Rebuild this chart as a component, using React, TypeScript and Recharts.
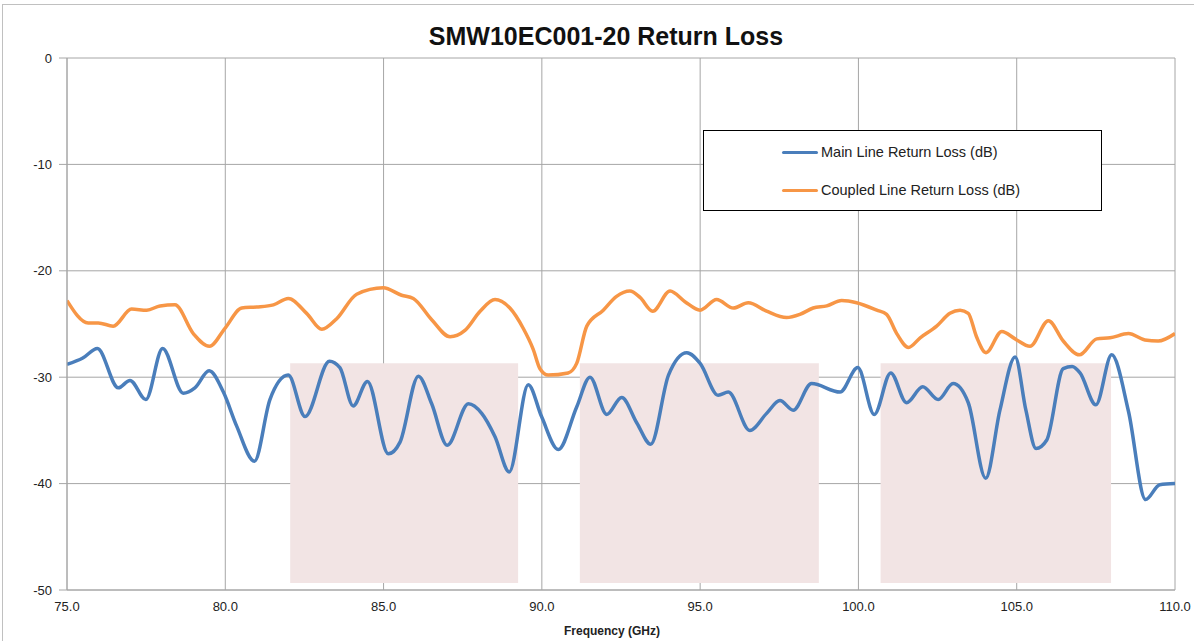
import { CartesianGrid, Line, LineChart, ReferenceArea, XAxis, YAxis } from "recharts"

const freqMain = [
  75.0, 75.5, 75.96, 76.62, 76.99, 77.49, 78.02, 78.67, 79.04, 79.49, 79.94, 80.36, 80.92, 81.41, 81.99,
  82.52, 83.29, 83.62, 84.04, 84.49, 85.15, 85.52, 86.1, 86.52, 87.01, 87.68, 88.1, 88.52, 88.97, 89.57,
  89.99, 90.52, 91.1, 91.52, 92.05, 92.52, 93.0, 93.44, 94.0, 94.58, 95.0, 95.57, 95.89, 96.57, 97.1,
  97.52, 97.94, 98.52, 99.42, 99.98, 100.5, 101.02, 101.52, 102.03, 102.52, 102.99, 103.47, 104.02,
  104.47, 104.95, 105.29, 105.61, 105.95, 106.47, 106.75, 107.0, 107.5, 108.0, 108.53, 109.07, 109.52, 110.0,
]
const lossMain = [
  -28.8, -28.2, -27.3, -31.0, -30.3, -32.1, -27.3, -31.5, -31.0, -29.4, -31.4, -34.6, -37.9, -32.1, -29.8,
  -33.7, -28.5, -29.1, -32.7, -30.4, -37.2, -36.1, -29.9, -32.5, -36.4, -32.5, -33.4, -35.6, -38.9, -30.7,
  -33.7, -36.8, -32.8, -30.0, -33.5, -31.9, -34.3, -36.3, -29.8, -27.7, -28.7, -31.7, -31.4, -35.0, -33.4,
  -32.2, -33.1, -30.6, -31.4, -29.1, -33.5, -29.6, -32.4, -30.9, -32.1, -30.6, -32.4, -39.5,
  -33.1, -28.1, -33.1, -36.7, -35.9, -29.2, -29.0, -29.6, -32.6, -27.9, -33.2, -41.5, -40.1, -40.0,
]

const freqCoupled = [
  75.0, 75.67, 75.99, 76.46, 77.04, 77.52, 77.94, 78.41, 78.99, 79.5, 79.99, 80.52, 80.99, 81.52, 81.99,
  82.57, 83.05, 83.52, 84.15, 84.99, 85.57, 85.94, 86.52, 87.1, 87.57, 88.05, 88.52, 88.99, 89.41, 89.73,
  89.94, 90.2, 90.83, 91.1, 91.42, 91.94, 92.36, 92.78, 93.1, 93.5, 94.05, 94.52, 95.0, 95.52, 96.05,
  96.52, 97.1, 97.73, 98.15, 98.57, 99.0, 99.47, 99.94, 100.58, 100.89, 101.21, 101.58, 101.95, 102.47,
  102.89, 103.21, 103.47, 103.73, 104.03, 104.53, 104.95, 105.42, 106.0, 106.47, 106.98, 107.53, 107.95,
  108.53, 109.05, 109.47, 110.0,
]
const lossCoupled = [
  -22.8, -24.9, -24.9, -25.2, -23.6, -23.7, -23.3, -23.2, -25.9, -27.1, -25.4, -23.5, -23.4, -23.2, -22.6,
  -24.0, -25.5, -24.5, -22.2, -21.6, -22.3, -22.6, -24.6, -26.2, -25.6, -23.8, -22.7, -23.5, -25.4, -27.4,
  -29.2, -29.8, -29.6, -28.7, -25.2, -23.7, -22.4, -21.9, -22.5, -23.8, -21.9, -22.9, -23.7, -22.7, -23.5,
  -23.0, -23.8, -24.4, -24.1, -23.5, -23.3, -22.8, -23.0, -23.7, -24.1, -25.9, -27.2, -26.3, -25.2,
  -24.0, -23.7, -24.0, -26.2, -27.7, -25.7, -26.4, -27.1, -24.7, -26.6, -27.9, -26.4, -26.3,
  -25.9, -26.5, -26.6, -25.9,
]

const bandStart = [82.05, 91.2, 100.7]
const bandEnd = [89.25, 98.75, 107.98]
const bandTop = -28.7
const bandBottom = -49.35

const xTicks = [75, 80, 85, 90, 95, 100, 105, 110]
const yTicks = [0, -10, -20, -30, -40, -50]

const seriesNames = ["Main Line Return Loss (dB)", "Coupled Line Return Loss (dB)"]
const seriesColors = ["#4a7ebb", "#f79646"]

const mainData = freqMain.map((f, i) => ({ f, v: lossMain[i] }))
const coupledData = freqCoupled.map((f, i) => ({ f, v: lossCoupled[i] }))

const font = "'Liberation Sans', Arial, sans-serif"

function LegendBox() {
  return (
    <div style={{ position: "absolute", left: 703, top: 130, width: 397, height: 79, border: "1px solid #000", background: "#fff" }}>
      {seriesNames.map((name, i) => (
        <div key={name} style={{ position: "absolute", left: 78, top: 11 + i * 38, display: "flex", alignItems: "center", height: 20 }}>
          <div style={{ width: 36, height: 3, background: seriesColors[i], borderRadius: 2 }} />
          <span style={{ marginLeft: 3, fontSize: 14.5, color: "#222", fontFamily: font }}>{name}</span>
        </div>
      ))}
    </div>
  )
}

export default function App() {
  return (
    <div style={{ position: "absolute", left: 0, top: 0, width: 1194, height: 641, background: "#fff", overflow: "hidden", fontFamily: font }}>
      <div style={{ position: "absolute", left: 2, top: 4, width: 1300, height: 800, border: "1px solid #c0c0c0" }} />
      <div style={{ position: "absolute", left: 0, top: 22, width: 1212, textAlign: "center", fontSize: 25, fontWeight: "bold", color: "#111" }}>
        SMW10EC001-20 Return Loss
      </div>
      <div style={{ position: "absolute", left: 0, top: 624, width: 1224, textAlign: "center", fontSize: 12, fontWeight: "bold", color: "#222" }}>
        Frequency (GHz)
      </div>
      <div style={{ position: "absolute", left: 0, top: 0 }}>
        <LineChart width={1194} height={641} margin={{ top: 58, right: 19, bottom: 0, left: 0 }}>
          <CartesianGrid stroke="#a6a6a6" strokeWidth={1} vertical horizontal />
          <XAxis
            type="number"
            dataKey="f"
            domain={[75, 110]}
            ticks={xTicks}
            allowDataOverflow
            tickFormatter={(v: number) => v.toFixed(1)}
            height={51}
            tickLine={false}
            tickSize={6}
            tickMargin={6}
            axisLine={{ stroke: "#a6a6a6" }}
            tick={{ fill: "#222", fontSize: 13, fontFamily: font }}
          />
          <YAxis
            type="number"
            domain={[-50, 0]}
            ticks={yTicks}
            width={67}
            tickSize={8}
            tickMargin={7}
            tickLine={{ stroke: "#a6a6a6" }}
            axisLine={{ stroke: "#a6a6a6" }}
            tick={{ fill: "#222", fontSize: 13, fontFamily: font }}
          />
          {bandStart.map((s, i) => (
            <ReferenceArea key={i} x1={s} x2={bandEnd[i]} y1={bandBottom} y2={bandTop} fill="#f2e4e4" fillOpacity={1} stroke="none" ifOverflow="visible" />
          ))}
          <Line data={mainData} dataKey="v" type="monotone" stroke={seriesColors[0]} strokeWidth={3.5} dot={false} isAnimationActive={false} name={seriesNames[0]} />
          <Line data={coupledData} dataKey="v" type="monotone" stroke={seriesColors[1]} strokeWidth={3.5} dot={false} isAnimationActive={false} name={seriesNames[1]} />
        </LineChart>
      </div>
      <LegendBox />
    </div>
  )
}
